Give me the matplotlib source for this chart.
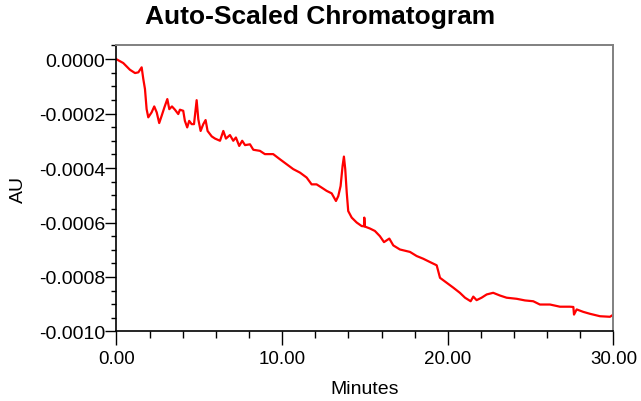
import numpy as np
import matplotlib
matplotlib.use("Agg")
import matplotlib.pyplot as plt
from matplotlib.ticker import MultipleLocator

plt.rcParams['font.family'] = ['Liberation Sans', 'DejaVu Sans']
plt.rcParams['axes.unicode_minus'] = False

# trace (minutes, AU)
minutes = [0.00, 0.05, 0.41, 0.81, 1.12, 1.32, 1.52, 1.62, 1.72, 1.82, 1.92,
           2.12, 2.28, 2.43, 2.58, 2.73, 2.89, 3.07, 3.19, 3.35, 3.53, 3.73,
           3.83, 4.03, 4.13, 4.27, 4.39, 4.54, 4.68, 4.84, 4.94, 5.08, 5.24,
           5.38, 5.50, 5.75, 5.95, 6.25, 6.45, 6.61, 6.85, 7.05, 7.21, 7.41,
           7.59, 7.76, 8.06, 8.26, 8.66, 8.96, 9.46, 9.87, 10.27, 10.67, 11.08,
           11.48, 11.78, 12.08, 12.39, 12.69, 12.99, 13.25, 13.39, 13.53, 13.65,
           13.73, 13.81, 13.90, 13.99, 14.20, 14.50, 14.80, 14.94, 14.96, 15.00,
           15.30, 15.60, 15.90, 16.15, 16.47, 16.71, 17.11, 17.72, 18.12, 18.52,
           18.92, 19.33, 19.43, 19.53, 19.93, 20.33, 20.73, 21.04, 21.38, 21.54,
           21.74, 22.04, 22.35, 22.74, 23.15, 23.55, 24.16, 24.66, 25.16, 25.56,
           26.17, 26.77, 27.37, 27.58, 27.62, 27.78, 28.18, 28.58, 29.19, 29.79,
           30.00]
au = [-0.0000010, -0.0000026, -0.0000147, -0.0000393, -0.0000515, -0.0000489,
      -0.0000305, -0.0000735, -0.000110, -0.000184, -0.000214,
      -0.000196, -0.000174, -0.000196, -0.000235, -0.000208, -0.000178,
      -0.000147, -0.000184, -0.000174, -0.000186, -0.000202,
      -0.000186, -0.000190, -0.000227, -0.000251, -0.000227, -0.000239,
      -0.000239, -0.000151, -0.000221, -0.000264, -0.000239,
      -0.000224, -0.000264, -0.000284, -0.000292, -0.000300, -0.000264,
      -0.000292, -0.000279, -0.000300, -0.000288, -0.000319,
      -0.000300, -0.000316, -0.000313, -0.000333, -0.000337, -0.000349,
      -0.000349, -0.000368, -0.000386, -0.000404, -0.000417,
      -0.000435, -0.000460, -0.000460, -0.000472, -0.000484, -0.000493,
      -0.000521, -0.000503, -0.000466, -0.000392,
      -0.000358, -0.000404, -0.000490, -0.000558, -0.000582, -0.000600,
      -0.000613, -0.000614, -0.000582, -0.000615,
      -0.000622, -0.000631, -0.000650, -0.000672, -0.000659, -0.000684,
      -0.000699, -0.000708, -0.000723, -0.000733,
      -0.000745, -0.000757, -0.000780, -0.000803, -0.000821, -0.000839,
      -0.000858, -0.000876, -0.000889, -0.000872,
      -0.000885, -0.000876, -0.000864, -0.000858, -0.000868, -0.000876,
      -0.000880, -0.000886, -0.000889, -0.000901,
      -0.000901, -0.000909, -0.000909, -0.000910, -0.000938, -0.000919,
      -0.000928, -0.000935, -0.000944, -0.000946,
      -0.000938]

x_ticks = [0, 10, 20, 30]
x_labels = ["0.00", "10.00", "20.00", "30.00"]
y_ticks = [0.0, -0.0002, -0.0004, -0.0006, -0.0008, -0.0010]
y_labels = ["0.0000", "-0.0002", "-0.0004", "-0.0006", "-0.0008", "-0.0010"]

fig = plt.figure(figsize=(6.41, 4.02), dpi=100)
ax = fig.add_axes([0.1817, 0.1729, 0.7753, 0.7127])

ax.plot(minutes, au, color="red", lw=1.6)

ax.set_xlim(0, 30)
ax.set_ylim(-0.0010, 0.0000515)
ax.set_xticks(x_ticks)
ax.set_xticklabels(x_labels)
ax.set_yticks(y_ticks)
ax.set_yticklabels(y_labels)
ax.xaxis.set_minor_locator(MultipleLocator(2))
ax.yaxis.set_minor_locator(MultipleLocator(0.00005))

ax.tick_params(axis="x", which="major", length=10, width=1, pad=3, labelsize=13.5)
ax.tick_params(axis="x", which="minor", length=5, width=1)
ax.tick_params(axis="y", which="major", length=8, width=1, pad=0, labelsize=14)
ax.tick_params(axis="y", which="minor", length=3.6, width=1)

for s in ["left", "bottom"]:
    ax.spines[s].set_color("black")
    ax.spines[s].set_linewidth(1.2)
for s in ["top", "right"]:
    ax.spines[s].set_color("#808080")
    ax.spines[s].set_linewidth(1.4)

ax.set_xlabel("Minutes", fontsize=14, labelpad=10)
ax.set_ylabel("AU", fontsize=14, labelpad=9)

fig.text(0.5, 0.958, "Auto-Scaled Chromatogram", ha="center", va="center",
         fontsize=19, fontweight="bold")

fig.savefig("out.png", dpi=100)
